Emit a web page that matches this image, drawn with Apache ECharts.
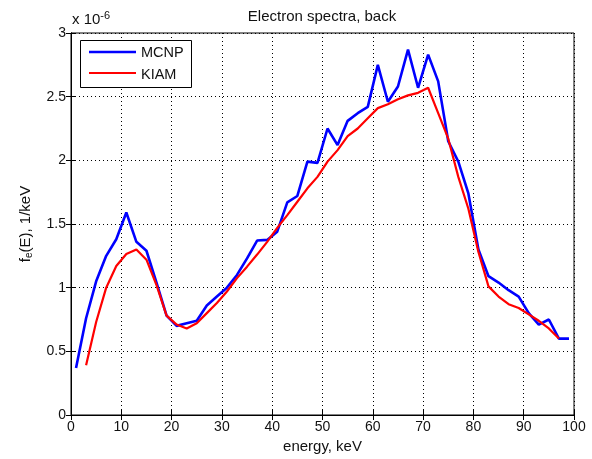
<!DOCTYPE html>
<html>
<head>
<meta charset="utf-8">
<script src="https://cdn.jsdelivr.net/npm/echarts@6/dist/echarts.min.js"></script>
<style>html,body{margin:0;padding:0;background:#fff}#c{width:592px;height:459px}</style>
</head>
<body>
<div id="c"></div>
<script>
// values in units of 1e-6 (1/keV)
const mcnpEnergy = [1,3,5,7,9,11,13,15,17,19,21,23,25,27,29,31,33,35,37,39,41,43,45,47,49,51,53,55,57,59,61,63,65,67,69,71,73,75,77,79,81,83,85,87,89,91,93,95,97,99];
const mcnpValues = [0.37,0.76,1.05,1.25,1.38,1.59,1.36,1.29,1.04,0.78,0.70,0.72,0.74,0.86,0.93,1.00,1.10,1.23,1.37,1.375,1.44,1.67,1.72,1.99,1.98,2.25,2.12,2.31,2.37,2.42,2.75,2.46,2.58,2.87,2.57,2.83,2.62,2.15,1.99,1.74,1.30,1.09,1.04,0.98,0.93,0.80,0.71,0.75,0.60,0.60];
const kiamEnergy = [3,5,7,9,11,13,15,17,19,21,23,25,27,29,31,33,35,37,39,41,43,45,47,49,51,53,55,57,59,61,63,65,67,69,71,73,75,77,79,81,83,85,87,89,91,93,95,97];
const kiamValues = [0.39,0.73,1.0,1.17,1.265,1.30,1.22,1.02,0.78,0.71,0.68,0.72,0.80,0.88,0.97,1.075,1.165,1.26,1.36,1.47,1.57,1.675,1.78,1.87,1.99,2.08,2.19,2.25,2.33,2.41,2.44,2.48,2.51,2.53,2.57,2.37,2.17,1.87,1.62,1.28,1.01,0.93,0.87,0.84,0.79,0.74,0.68,0.60];
const xTicks = [0,10,20,30,40,50,60,70,80,90,100];
const yTicks = [0,0.5,1,1.5,2,2.5,3];
const seriesNames = ['MCNP','KIAM'];

const font = 'Liberation Sans, Arial, sans-serif';
const txt = '#111';
const chart = echarts.init(document.getElementById('c'), null, {renderer:'canvas'});
const dotted = {show:true, lineStyle:{color:'#000', width:1, type:[1,3]}};
const tick = {show:true, inside:true, length:5, lineStyle:{color:'#000'}};
chart.setOption({
  animation:false,
  grid:{left:71, right:18, top:33, bottom:44, show:true, borderColor:'#000', borderWidth:1, backgroundColor:'#fff'},
  xAxis:[{type:'value', min:xTicks[0], max:xTicks[xTicks.length-1], interval:10,
    name:'energy, keV', nameLocation:'middle', nameGap:24,
    nameTextStyle:{fontFamily:font, fontSize:15, color:txt},
    axisLine:{show:true, lineStyle:{color:'#000'}},
    axisTick:tick,
    axisLabel:{fontFamily:font, fontSize:14, color:txt, margin:5},
    splitLine:dotted},
   {type:'value', position:'top', min:0, max:100, interval:10,
    axisLine:{show:true, lineStyle:{color:'#000'}},
    axisTick:tick, axisLabel:{show:false}, splitLine:{show:false}}],
  yAxis:[{type:'value', min:yTicks[0], max:yTicks[yTicks.length-1], interval:0.5,
    name:'f{sub|e}(E), 1/keV', nameLocation:'middle', nameGap:37, nameRotate:90,
    nameTextStyle:{fontFamily:font, fontSize:15, color:txt,
      rich:{sub:{fontSize:10, verticalAlign:'bottom', padding:[7,0,0,0], fontFamily:font, color:txt}}},
    axisLine:{show:true, lineStyle:{color:'#000'}},
    axisTick:tick,
    axisLabel:{fontFamily:font, fontSize:14, color:txt, margin:5},
    splitLine:dotted},
   {type:'value', position:'right', min:0, max:3, interval:0.5,
    axisLine:{show:true, lineStyle:{color:'#000'}},
    axisTick:tick, axisLabel:{show:false}, splitLine:{show:false}}],
  series:[
    {name:seriesNames[0], type:'line', showSymbol:false, symbol:'none',
     data:mcnpEnergy.map((e,i)=>[e,mcnpValues[i]]),
     lineStyle:{color:'#0000ff', width:2.6}, itemStyle:{color:'#0000ff'}},
    {name:seriesNames[1], type:'line', showSymbol:false, symbol:'none',
     data:kiamEnergy.map((e,i)=>[e,kiamValues[i]]),
     lineStyle:{color:'#ff0000', width:2.2}, itemStyle:{color:'#ff0000'}}
  ],
  graphic:[
    {type:'text', x:322, y:17, style:{text:'Electron spectra, back', fontFamily:font, fontSize:15, fill:txt, textAlign:'center', textVerticalAlign:'middle'}},
    {type:'text', x:72, y:20, style:{text:'x 10{s|-6}', rich:{s:{fontSize:11, verticalAlign:'top', padding:[0,0,9,0], fontFamily:font}}, fontFamily:font, fontSize:15, fill:txt, textVerticalAlign:'middle'}},
    {type:'rect', shape:{x:80.5, y:40.5, width:111, height:47}, style:{fill:'#fff', stroke:'#000', lineWidth:1}, z:100},
    {type:'line', shape:{x1:89, y1:52, x2:136, y2:52}, style:{stroke:'#0000ff', lineWidth:2.6}, z:101},
    {type:'line', shape:{x1:89, y1:73, x2:136, y2:73}, style:{stroke:'#ff0000', lineWidth:2.2}, z:101},
    {type:'text', x:141, y:53, style:{text:seriesNames[0], fontFamily:font, fontSize:14.5, fill:txt, textVerticalAlign:'middle'}, z:101},
    {type:'text', x:141, y:75, style:{text:seriesNames[1], fontFamily:font, fontSize:14.5, fill:txt, textVerticalAlign:'middle'}, z:101}
  ]
});
</script>
</body>
</html>
